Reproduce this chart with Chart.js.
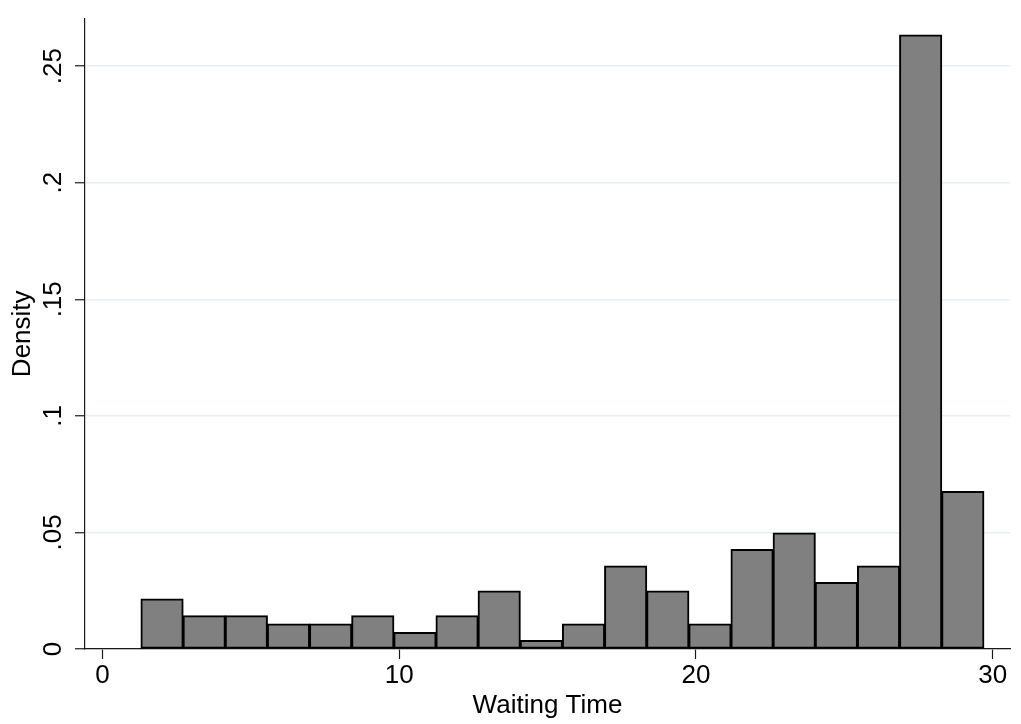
<!DOCTYPE html>
<html>
<head>
<meta charset="utf-8">
<script src="https://cdn.jsdelivr.net/npm/chart.js@4.4.1/dist/chart.umd.min.js"></script>
<style>
  html, body { margin: 0; padding: 0; background: #ffffff; }
  #wrap { width: 1021px; height: 724px; position: relative; }
</style>
</head>
<body>
<div id="wrap"><canvas id="c"></canvas></div>
<script>
// Histogram bins (centers of bins, Waiting Time)
const binCenters = [2.01, 3.43, 4.85, 6.27, 7.69, 9.11, 10.53, 11.95, 13.37, 14.79,
                    16.21, 17.63, 19.05, 20.47, 21.89, 23.31, 24.73, 26.15, 27.57, 28.99];
// Density values
const densities = [0.0214, 0.0143, 0.0143, 0.0107, 0.0107, 0.0143, 0.0071, 0.0143, 0.0249, 0.0036,
                   0.0107, 0.0356, 0.0249, 0.0107, 0.0427, 0.0498, 0.0285, 0.0356, 0.2634, 0.0676];
// Tick values and labels
const xTicks = [0, 10, 20, 30];
const xTickLabels = ["0", "10", "20", "30"];
const yTicks = [0, 0.05, 0.1, 0.15, 0.2, 0.25];
const yTickLabels = ["0", ".05", ".1", ".15", ".2", ".25"];
const xTitle = "Waiting Time";
const yTitle = "Density";

const FONT = "'Liberation Sans', Arial, Helvetica, sans-serif";
const AXIS_COLOR = "#1a1a1a";

const points = binCenters.map((c, i) => ({ x: c, y: densities[i] }));

new Chart(document.getElementById('c'), {
  type: 'bar',
  data: {
    datasets: [{
      data: points,
      backgroundColor: 'rgb(128,128,128)',
      borderColor: '#000000',
      borderWidth: 2,
      borderSkipped: false,
      barPercentage: 1.0,
      categoryPercentage: 1.0,
      inflateAmount: 0.5
    }]
  },
  options: {
    responsive: true,
    maintainAspectRatio: false,
    animation: false,
    layout: { padding: { left: 0, right: 11, top: 13, bottom: 0 } },
    plugins: { legend: { display: false }, tooltip: { enabled: false } },
    scales: {
      x: {
        type: 'linear',
        offset: false,
        min: -0.586,
        max: 30.58,
        afterFit: (s) => { s.height = 75; },
        afterBuildTicks: (s) => { s.ticks = xTicks.map(v => ({ value: v })); },
        ticks: {
          callback: (v) => { const i = xTicks.indexOf(v); return i >= 0 ? xTickLabels[i] : ''; },
          font: { family: FONT, size: 26 },
          color: '#000000',
          padding: 1,
          maxRotation: 0,
          minRotation: 0,
          autoSkip: false
        },
        grid: {
          display: true,
          offset: false,
          drawOnChartArea: false,
          drawTicks: true,
          tickLength: 10,
          tickColor: AXIS_COLOR,
          tickWidth: 1.2
        },
        border: { display: true, color: AXIS_COLOR, width: 1.2 },
        title: {
          display: true,
          text: xTitle,
          font: { family: FONT, size: 26 },
          color: '#000000',
          padding: { top: 0, bottom: 3 }
        }
      },
      y: {
        type: 'linear',
        min: 0,
        max: 0.2704,
        afterFit: (s) => { s.width = 85; },
        afterBuildTicks: (s) => { s.ticks = yTicks.map(v => ({ value: v })); },
        ticks: {
          callback: (v) => {
            const i = yTicks.findIndex(t => Math.abs(t - v) < 1e-9);
            return i >= 0 ? yTickLabels[i] : '';
          },
          font: { family: FONT, size: 26 },
          color: '#000000',
          padding: 3,
          minRotation: 90,
          maxRotation: 90,
          crossAlign: 'center',
          autoSkip: false
        },
        grid: {
          display: true,
          offset: false,
          drawOnChartArea: true,
          drawTicks: true,
          tickLength: 10,
          color: 'rgb(230,239,242)',
          lineWidth: 1.5,
          tickColor: AXIS_COLOR,
          tickWidth: 1.2
        },
        border: { display: true, color: AXIS_COLOR, width: 1.2 },
        title: {
          display: true,
          text: yTitle,
          font: { family: FONT, size: 26 },
          color: '#000000',
          padding: { top: 7, bottom: 0 }
        }
      }
    }
  }
});
</script>
</body>
</html>
